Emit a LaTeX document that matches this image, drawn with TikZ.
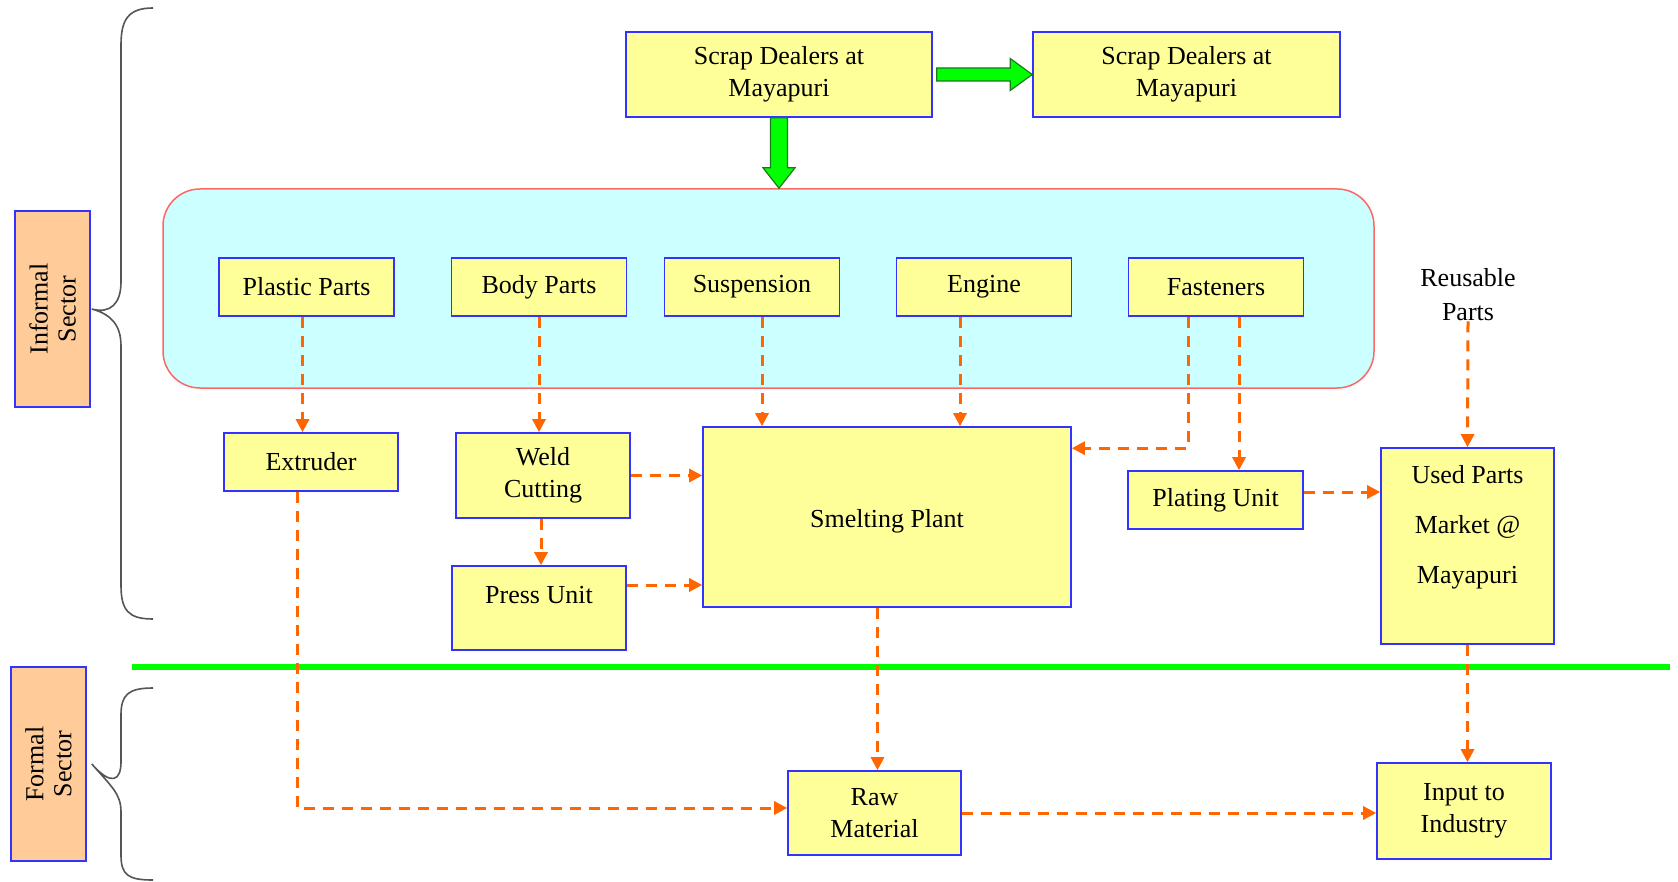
\documentclass[tikz,border=0pt]{standalone}
\usepackage{fontspec}
\setmainfont{Liberation Serif}
\usetikzlibrary{arrows.meta,calc}
\definecolor{boxyellow}{HTML}{FFFF99}
\definecolor{boxblue}{HTML}{3333FF}
\definecolor{panelcyan}{HTML}{CCFFFF}
\definecolor{panelred}{HTML}{FF6666}
\definecolor{flow}{HTML}{FF6600}
\definecolor{sector}{HTML}{FFCC99}
\definecolor{divgreen}{HTML}{00FF00}
\definecolor{arrowedge}{HTML}{1A7A1A}
\definecolor{bracegray}{HTML}{555555}
\begin{document}
\begin{tikzpicture}[x=1pt,y=-1pt,
  box/.style={draw=boxblue, fill=boxyellow, line width=1.6pt, align=center, inner sep=0pt, font=\fontsize{26}{32}\selectfont},
  sectorbox/.style={draw=boxblue, fill=sector, line width=1.6pt, align=center, inner sep=0pt, font=\fontsize{26}{28}\selectfont},
  plain/.style={align=center, inner sep=0pt, font=\fontsize{26}{34}\selectfont},
  flowline/.style={draw=flow, line width=3pt, dash pattern=on 11pt off 8pt, -{Triangle[length=13pt,width=13pt]}},
  greenarrow/.style={draw=arrowedge, fill=divgreen, line width=1.2pt, line join=miter},
  bracestyle/.style={draw=bracegray, line width=1.6pt},
  divider/.style={draw=divgreen, line width=6.5pt}]
\useasboundingbox (0,0) rectangle (1678,882);

% panel
\node[draw=panelred, fill=panelcyan, rounded corners=37pt, line width=1.5pt,
      minimum width=1211pt, minimum height=199pt] (panel) at (768.5,288.5) {};

% top dealers
\node[box, minimum width=306pt, minimum height=85pt] (sd1) at (779,74.5) {Scrap Dealers at\\Mayapuri};
\node[box, minimum width=307pt, minimum height=85pt] (sd2) at (1186.5,74.5) {Scrap Dealers at\\Mayapuri};

% parts
\node[box, minimum width=175pt, minimum height=58pt] (plastic) at (306.5,287) {Plastic Parts};
\node[box, minimum width=175pt, minimum height=58pt] (body) at (539,287) {Body Parts};
\node[box, minimum width=175pt, minimum height=58pt] (susp) at (752,287) {Suspension};
\node[box, minimum width=175pt, minimum height=58pt] (engine) at (984,287) {Engine};
\node[box, minimum width=175pt, minimum height=58pt] (fast) at (1216,287) {Fasteners};
\node[plain] (reuse) at (1468,295) {Reusable\\Parts};

% processing
\node[box, minimum width=174pt, minimum height=58pt] (extr) at (311,462) {Extruder};
\node[box, minimum width=174pt, minimum height=85pt] (weld) at (543,475.5) {Weld\\Cutting};
\node[box, minimum width=174pt, minimum height=84pt] (press) at (539,608) {\raisebox{4.5pt}[0pt][0pt]{Press Unit}};
\node[box, minimum width=368pt, minimum height=180pt] (smelt) at (887,517) {\raisebox{-10.5pt}[0pt][0pt]{Smelting Plant}};
\node[box, minimum width=175pt, minimum height=58pt] (plating) at (1215.5,500) {Plating Unit};
\node[box, minimum width=173pt, minimum height=196pt] (used) at (1467.5,546)
  {\raisebox{63pt}[0pt][0pt]{\fontsize{26}{50}\selectfont\begin{tabular}[t]{@{}c@{}}Used Parts\\Market @\\Mayapuri\end{tabular}}};

% formal
\node[box, minimum width=173pt, minimum height=84pt] (raw) at (874.5,813) {Raw\\Material};
\node[box, minimum width=174pt, minimum height=96pt] (input) at (1464,811) {Input to\\Industry};

% sectors
\node[sectorbox, rotate=90, minimum width=196pt, minimum height=75pt] (informal) at (52.5,309) {Informal\\Sector};
\node[sectorbox, rotate=90, minimum width=194pt, minimum height=75pt] (formal) at (48.5,764) {Formal\\Sector};

% braces
\coordinate (informaltip) at ($(informal.south)+(1,0)$);
\coordinate (formaltip) at ($(formal.south)+(5,0)$);
\draw[bracestyle] (153,8) .. controls (128,8) and (121,20) .. (121,45) -- (121,282)
  .. controls (121,304) and (110,314) .. (informaltip)
  .. controls (110,314) and (121,324) .. (121,346) -- (121,585)
  .. controls (121,610) and (128,619) .. (153,619);
\draw[bracestyle] (153,688) .. controls (128,688) and (121,695) .. (121,715) -- (121,762)
  .. controls (121,780) and (112,787) .. (formaltip)
  .. controls (112,787) and (121,794) .. (121,812) -- (121,855)
  .. controls (121,875) and (128,880) .. (153,880);

% divider
\coordinate (divL) at (132,667);
\coordinate (divR) at (1670,667);
\draw[divider] (divL) -- (divR);

% green arrows
\draw[greenarrow] ($(sd1.south)+(-8.5,0)$) -- ($(sd1.south)+(-8.5,50)$) -- ($(sd1.south)+(-16,50)$)
  -- (sd1.south |- panel.north) -- ($(sd1.south)+(16,50)$) -- ($(sd1.south)+(8.5,50)$)
  -- ($(sd1.south)+(8.5,0)$) -- cycle;
\draw[greenarrow] ($(sd1.east)+(4,-6.5)$) -- ($(sd2.west)+(-22,-6.5)$) -- ($(sd2.west)+(-22,-16)$)
  -- (sd2.west) -- ($(sd2.west)+(-22,16)$) -- ($(sd2.west)+(-22,6.5)$)
  -- ($(sd1.east)+(4,6.5)$) -- cycle;

% orange flows
\draw[flowline] ($(plastic.south)+(-4,0)$) -- ($(plastic.south |- extr.north)+(-4,0)$);
\draw[flowline] (body.south) -- (body.south |- weld.north);
\coordinate (suspout) at ($(susp.south)+(10,0)$);
\draw[flowline] (suspout) -- (suspout |- smelt.north);
\coordinate (engout) at ($(engine.south)+(-24,0)$);
\draw[flowline] (engout) -- (engout |- smelt.north);
\coordinate (fastA) at ($(fast.south)+(-28,0)$);
\coordinate (fastB) at ($(fast.south)+(23,0)$);
\draw[flowline] (fastA) |- ($(smelt.north east)+(0,22)$);
\draw[flowline] (fastB) -- (fastB |- plating.north);
\draw[flowline] (reuse.south) -- (used.north);
\draw[flowline] (weld.east) -- (weld.east -| smelt.west);
\draw[flowline] ($(weld.south)+(-2,0)$) -- ($(weld.south |- press.north)+(-2,0)$);
\coordinate (pressout) at ($(press.east)+(0,-23)$);
\draw[flowline] (pressout) -- (pressout -| smelt.west);
\coordinate (platingout) at ($(plating.east)+(0,-8)$);
\draw[flowline] (platingout) -- (platingout -| used.west);
\coordinate (smeltout) at ($(raw.north |- smelt.south)+(3,0)$);
\draw[flowline] (smeltout) -- (smeltout |- raw.north);
\coordinate (extrout) at ($(extr.south)+(-14,0)$);
\draw[flowline] (extrout) |- ($(raw.west)+(0,-5)$);
\draw[flowline] (used.south) -- (used.south |- input.north);
\draw[flowline] (raw.east) -- (raw.east -| input.west);
\end{tikzpicture}
\end{document}
